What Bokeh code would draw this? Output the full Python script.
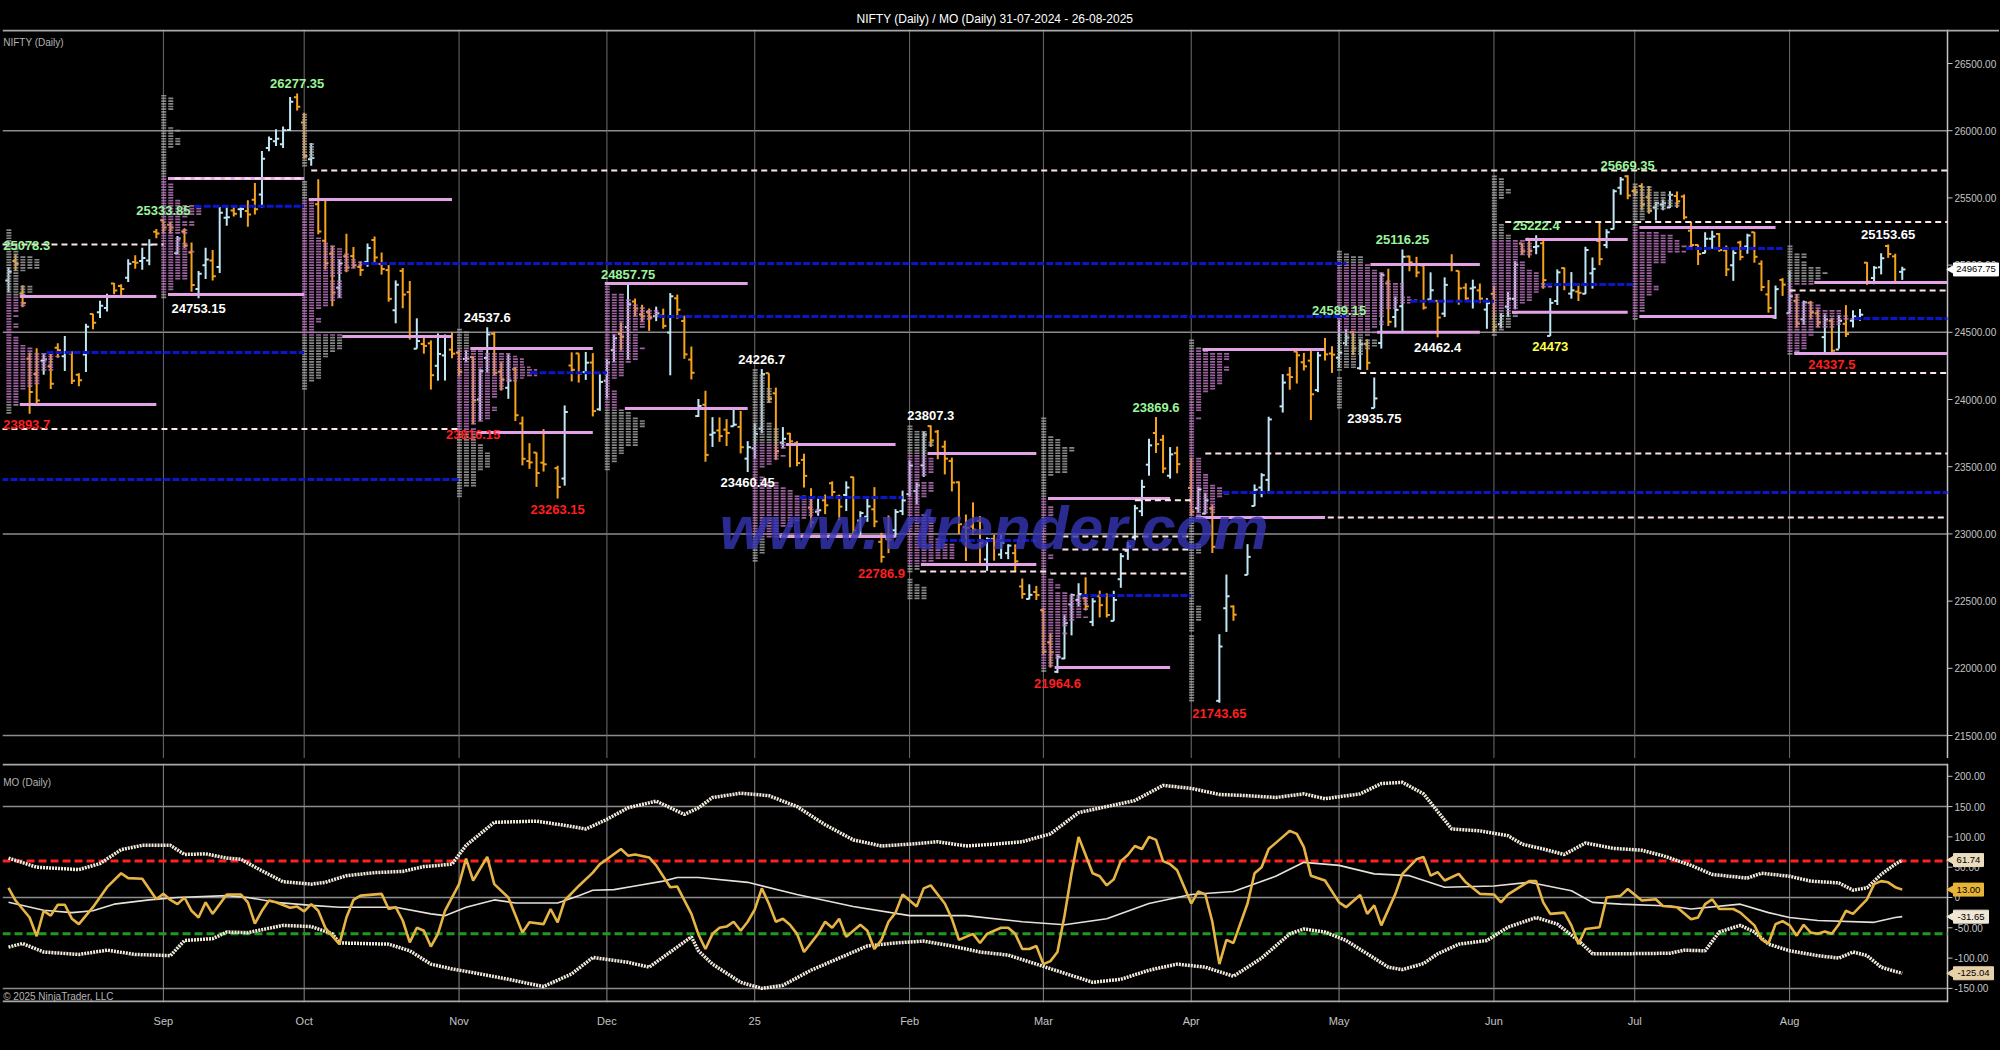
import numpy as np
from bokeh.plotting import figure
from bokeh.models import Range1d, FixedTicker, Label, Span, ColumnDataSource
from bokeh.layouts import column
from bokeh.embed import file_html
from bokeh.resources import INLINE
from bokeh.core.properties import value

FONT = "Liberation Sans"

# ---------------- DATA: daily OHLC (open, high, low, close), grouped by profile month ----------------
aug24 = [
    (24886, 24984, 24798, 24951), (25030, 25078.3, 24956, 25011), (24789, 24851, 24686, 24718),
    (24303, 24350, 23893.7, 24055), (24189, 24382, 23960, 23992), (24289, 24337, 24184, 24297),
    (24248, 24340, 24079, 24117), (24386, 24419, 24311, 24367), (24321, 24473, 24213, 24347),
    (24342, 24359, 24116, 24139), (24184, 24196, 24099, 24143), (24335, 24563, 24204, 24541),
    (24636, 24638, 24522, 24572), (24649, 24734, 24607, 24698), (24680, 24787, 24654, 24770),
    (24863, 24867, 24784, 24811), (24845, 24858, 24771, 24823), (24906, 25043, 24874, 25010),
    (25024, 25073, 24973, 25017), (25030, 25129, 24965, 25052), (25035, 25192, 24999, 25151),
    (25249, 25268, 25199, 25236)]
sep24 = [
    (25333, 25333.85, 25235, 25279), (25300, 25321, 25235, 25279), (25089, 25216, 25083, 25198),
    (25250, 25275, 25127, 25145), (25093, 25168, 24801, 24852), (24823, 24957, 24753.15, 24936),
    (24999, 25130, 24897, 25041), (25035, 25113, 24886, 24918), (24985, 25433, 24941, 25389),
    (25352, 25430, 25292, 25357), (25406, 25445, 25361, 25383), (25416, 25441, 25352, 25418),
    (25402, 25483, 25285, 25377), (25487, 25611, 25376, 25416), (25525, 25849, 25426, 25791),
    (25872, 25956, 25847, 25939), (25921, 26011, 25886, 25940), (25899, 26032, 25871, 26004),
    (26005, 26250, 25998, 26216), (26248, 26277.35, 26151, 26179)]
oct24 = [
    (26061, 26134, 25794, 25811), (25788, 25908, 25739, 25797), (25453, 25639, 25230, 25250),
    (25181, 25485, 24967, 25015), (25084, 25144, 24694, 24796), (24832, 25044, 24757, 25013),
    (25066, 25234, 24947, 24982), (25067, 25134, 24980, 24998), (24986, 25028, 24920, 24964),
    (25024, 25160, 24988, 25128), (25186, 25213, 25008, 25057), (25008, 25093, 24929, 24971),
    (24963, 25000, 24728, 24749), (24664, 24886, 24567, 24854), (24957, 24978, 24679, 24781),
    (24799, 24882, 24446, 24472), (24378, 24604, 24378, 24435), (24413, 24480, 24341, 24399),
    (24418, 24440, 24074, 24181), (24251, 24492, 24140, 24339), (24328, 24484, 24141, 24466),
    (24371, 24499, 24307, 24341)]
nov24 = [
    (24349, 24372, 24172, 24205), (24302, 24368, 24280, 24304), (24316, 24316, 23816.15, 23995),
    (24000, 24230, 23842, 24213), (24309, 24537.6, 24204, 24484), (24489, 24503, 24179, 24199),
    (24207, 24276, 24066, 24148), (24087, 24336, 24005, 24141), (24225, 24242, 23840, 23883),
    (23822, 23873, 23510, 23559), (23542, 23675, 23484, 23532), (23605, 23606, 23350, 23453),
    (23530, 23780, 23464, 23518), None, (23489, 23507, 23263.15, 23349),
    (23412, 23956, 23359, 23907), (24253, 24351, 24135, 24221), (24343, 24343, 24126, 24194),
    (24204, 24354, 24146, 24274), (24275, 24345, 23874, 23914), (23927, 24188, 23916, 24131)]
dec24 = [
    (24140, 24301, 24008, 24276), (24367, 24482, 24280, 24457), (24488, 24573, 24366, 24467),
    (24539, 24857.75, 24296, 24708), (24729, 24751, 24620, 24677), (24633, 24705, 24580, 24619),
    (24652, 24677, 24511, 24610), (24620, 24691, 24583, 24641), (24624, 24676, 24527, 24548),
    (24498, 24792, 24180, 24768), (24753, 24781, 24601, 24668), (24584, 24624, 24303, 24336),
    (24297, 24394, 24149, 24199), (23877, 24004, 23870, 23952), (23961, 24065, 23537, 23588),
    (23738, 23869, 23647, 23753), (23770, 23867, 23685, 23728), (23776, 23854, 23654, 23751),
    (23801, 23938, 23800, 23813), (23796, 23915, 23599, 23645), (23560, 23690, 23460.45, 23645)]
jan25 = [
    (23637, 23822, 23562, 23743), (23783, 24226.7, 23751, 24189), (24196, 24196, 23977, 24005),
    (24046, 24089, 23551, 23616), (23679, 23795, 23637, 23708), (23746, 23752, 23496, 23689),
    (23674, 23690, 23504, 23527), (23551, 23597, 23345, 23432), (23196, 23340, 23047, 23086),
    (23165, 23264, 23135, 23176), (23250, 23293, 23147, 23213), (23377, 23391, 23273, 23312),
    (23278, 23292, 23101, 23203), (23290, 23391, 23170, 23345), (23422, 23426, 22977, 23025),
    (23099, 23169, 22981, 23155), (23128, 23270, 23090, 23205), (23183, 23348, 23050, 23092),
    (22941, 23008, 22786.9, 22829), (22961, 23137, 22857, 22957), (23027, 23184, 22976, 23163),
    (23170, 23322, 23140, 23249)]
feb25 = [
    (23296, 23546, 23278, 23508), (23319, 23382, 23222, 23361), (23510, 23762, 23424, 23739),
    (23802, 23807.3, 23647, 23696), (23761, 23773, 23556, 23603), (23649, 23694, 23443, 23560),
    (23543, 23568, 23316, 23382), (23384, 23391, 23000, 23072), (23050, 23144, 22798, 23045),
    (23055, 23235, 22992, 23031), (23097, 23133, 22774, 22930), (22810, 22974, 22725, 22960),
    (22963, 22993, 22801, 22945), (22847, 22994, 22814, 22933), (22857, 22923, 22812, 22913),
    (22857, 22922, 22720, 22796), (22609, 22668, 22518, 22553), (22516, 22625, 22513, 22547),
    (22568, 22613, 22508, 22545)]
mar25 = [
    (22433, 22450, 22105, 22125), (22194, 22261, 22005, 22119), (21974, 22106, 21964.6, 22083),
    (22073, 22395, 22068, 22337), (22476, 22556, 22245, 22545), (22508, 22633, 22464, 22553),
    (22521, 22677, 22430, 22461), (22345, 22522, 22314, 22498), (22536, 22578, 22379, 22470),
    (22541, 22558, 22378, 22397), (22353, 22577, 22353, 22509), (22663, 22857, 22599, 22834),
    (22874, 22940, 22807, 22908), (22973, 23216, 22953, 23191), (23169, 23403, 23132, 23350),
    (23515, 23708, 23433, 23659), (23751, 23869.6, 23602, 23668), (23700, 23737, 23452, 23487),
    (23433, 23646, 23412, 23592), (23601, 23650, 23451, 23519), None]
apr25 = [
    (23342, 23566, 23136, 23165), (23192, 23350, 23158, 23332), (23151, 23306, 23146, 23250),
    (23190, 23214, 22858, 22904), (21758, 22254, 21743.65, 22162), (22447, 22698, 22271, 22536),
    (22460, 22468, 22354, 22399), None, (22695, 22924, 22695, 22829),
    (23208, 23368, 23207, 23329), (23345, 23452, 23273, 23437), (23402, 23872, 23299, 23852),
    None, (23949, 24189, 23903, 24126), (24185, 24242, 24073, 24167),
    (24357, 24359, 24119, 24329), (24277, 24347, 24216, 24247), (24289, 24365, 23848, 24039),
    (24070, 24355, 24055, 24328), (24371, 24458, 24290, 24336), (24342, 24396, 24198, 24334)]
may25 = [
    (24311, 24589.15, 24238, 24347), (24419, 24526, 24400, 24461), (24500, 24509, 24331, 24380),
    (24233, 24449, 24221, 24414), (24414, 24448, 24220, 24273), (23936, 24164, 23935.75, 24008),
    (24420, 24944, 24379, 24925), (24864, 24973, 24547, 24578), (24614, 24767, 24536, 24667),
    (24694, 25116.25, 24494, 25062), (25064, 25071, 24954, 25020), (25005, 25062, 24910, 24945),
    (24997, 25011, 24669, 24684), (24745, 24946, 24737, 24813), (24734, 24737, 24462.4, 24610),
    (24639, 24909, 24614, 24853), (25002, 25080, 24954, 25001), (24957, 24958, 24705, 24827),
    (24832, 24865, 24737, 24752), (24826, 24892, 24677, 24834), (24812, 24863, 24717, 24751),
    (24669, 24754, 24526, 24717)]
jun25 = [
    (24786, 24846, 24502, 24543), (24560, 24644, 24530, 24621), (24691, 24800, 24613, 24751),
    (24749, 25029, 24671, 25003), (25160, 25160, 25077, 25103), (25196, 25199, 25055, 25105),
    (25134, 25222.4, 25080, 25141), (25162, 25196, 24824, 24888), (24473, 24754, 24473, 24719),
    (24733, 24968, 24703, 24946), (24978, 24982, 24813, 24853), (24788, 24948, 24750, 24812),
    (24803, 24863, 24733, 24794), (24787, 25137, 24784, 25112), (24939, 25057, 24825, 24972),
    (25179, 25318, 24999, 25045), (25150, 25266, 25125, 25245), (25269, 25565, 25266, 25549),
    (25576, 25655, 25523, 25637), (25661, 25669.35, 25490, 25517)]
jul25 = [
    (25552, 25593, 25513, 25542), (25589, 25609, 25409, 25453), (25505, 25588, 25383, 25405),
    (25428, 25470, 25332, 25461), (25451, 25489, 25408, 25461), (25428, 25549, 25424, 25523),
    (25514, 25548, 25425, 25476), (25511, 25525, 25340, 25356), (25255, 25323, 25129, 25150),
    (25149, 25152, 25001, 25082), (25090, 25245, 25088, 25196), (25196, 25255, 25121, 25212),
    (25231, 25238, 25100, 25112), (25108, 25145, 24918, 24968), (24999, 25111, 24883, 25091),
    (25168, 25182, 25036, 25061), (25139, 25233, 25085, 25220), (25244, 25247, 25018, 25062),
    (25010, 25035, 24807, 24837), (24782, 24889, 24646, 24681), (24609, 24848, 24599, 24821),
    (24890, 24903, 24771, 24855)]
aug25 = [
    (24642, 24956, 24636, 24768), (24734, 24784, 24535, 24565), (24597, 24736, 24554, 24723),
    (24720, 24734, 24596, 24650), (24641, 24671, 24539, 24574), (24464, 24634, 24344, 24596),
    (24586, 24609, 24337.5, 24363), (24372, 24629, 24378, 24585), (24563, 24702, 24465, 24487),
    (24586, 24664, 24536, 24619), (24607, 24674, 24586, 24631), (25018, 25022, 24853, 24877),
    (24904, 24993, 24858, 24980), (24984, 25089, 24931, 25051), (25142, 25153.65, 25054, 25083),
    (25065, 25085, 24860, 24870), (24950, 24988, 24890, 24967.75)]

groups = [aug24, sep24, oct24, nov24, dec24, jan25, feb25, mar25, apr25, may25, jun25, jul25, aug25]

# month separators (bar index of first bar) and x tick labels
month_tick_idx = [22, 42, 64, 85, 106, 128, 147, 168, 189, 211, 231, 253]
month_tick_lbl = ["Sep", "Oct", "Nov", "Dec", "25", "Feb", "Mar", "Apr", "May", "Jun", "Jul", "Aug"]

# monthly profile levels: value-area high / low, point of control, and where their lines end (bar index)
va_high = [24766, 25644, 25488, 24379, 24863, 23665, 23598, 23263, 24372, 25004, 25190, 25280, 24871]
va_low = [23963, 24781, 24469, 23754, 23933, 22980, 22772, 22006, 23122, 24500, 24650, 24618, 24342]
va_end = [21, 42, 63, 83, 105, 126, 146, 165, 187, 209, 230, 251, 300]
poc = [24350, 25437, 25012, 24200, 24617, 23271, 22951, 22542, 23308, 24731, 24856, 25124, 24603]
poc_end = [42, 42, 190, 85, 190, 127, 146, 168, 300, 211, 231, 252, 300]
old_poc = [23405]
old_poc_start = [-1]
old_poc_end = [64]

# extended reference levels (white dashed)
ext_price = [25153, 23780, 25704, 25644, 22720, 23250, 22980, 22884, 22705, 23598, 23122, 24198, 25320, 24811]
ext_start = [-1, -1, 43, 23.6, 129.5, 160, 149.7, 149.7, 148, 170, 187.4, 192, 212.6, 253]
ext_end = [22, 64, 300, 42, 148, 168, 168, 168, 168, 300, 300, 300, 300, 300]

# swing labels: bar index, price, kind (hi = above bar / lo = below bar), colour class
swing_idx = [1, 22, 41, 27, 68, 66, 78, 88, 107, 105, 124, 131, 149, 163, 172, 189, 194, 198, 203, 217, 219, 230, 259, 267, 3]
swing_px = [25078.3, 25333.85, 26277.35, 24753.15, 24537.6, 23816.15, 23263.15, 24857.75, 24226.7, 23460.45,
            22786.9, 23807.3, 21964.6, 23869.6, 21743.65, 24589.15, 23935.75, 25116.25, 24462.4, 25222.4,
            24473, 25669.35, 24337.5, 25153.65, 23893.7]
swing_kind = ["hi", "hi", "hi", "lo", "hi", "lo", "lo", "hi", "hi", "lo", "lo", "hi", "lo", "hi", "lo", "hi",
              "lo", "hi", "lo", "hi", "lo", "hi", "lo", "hi", "lo"]
swing_cls = ["g", "g", "g", "w", "w", "r", "r", "g", "w", "w", "r", "w", "r", "g", "r", "g", "w", "g", "w", "g",
             "y", "g", "r", "w", "r"]

# MO oscillator (bar index, value)
mo_pts = [(0, 16), (1, -5), (3, -33), (4, -64), (5, -22), (6, -30), (7, -12), (8, -12), (9, -35), (10, -44),
          (12, -16), (14, 17), (16, 40), (17, 32), (19, 31), (20, 14), (21, -3), (22, 6), (23, -4), (24, -11),
          (25, 0), (26, -22), (27, -33), (28, -8), (29, -27), (31, 5), (33, 5), (34, -8), (35, -43), (36, -22),
          (37, -5), (38, -8), (40, -17), (41, -15), (42, -23), (43, -11), (44, -22), (45, -50), (47, -77),
          (48, -33), (49, -4), (50, 3), (53, 6), (54, -19), (55, -16), (56, -38), (57, -74), (58, -50),
          (59, -55), (60, -81), (61, -60), (62, -22), (64, 22), (65, 64), (66, 28), (68, 67), (69, 22),
          (71, 0), (73, -58), (74, -41), (76, -44), (77, -19), (78, -41), (79, -5), (81, 19), (83, 41),
          (84, 55), (85, 63), (87, 80), (88, 69), (89, 71), (91, 66), (92, 53), (94, 17), (95, 18), (97, -27),
          (98, -61), (99, -85), (100, -60), (101, -50), (102, -48), (103, -40), (104, -55), (105, -40),
          (106, -20), (107, 15), (108, -10), (109, -40), (110, -35), (111, -45), (112, -60), (113, -90),
          (114, -75), (115, -60), (116, -40), (117, -50), (118, -35), (119, -65), (120, -55), (121, -45),
          (122, -55), (123, -85), (124, -70), (125, -40), (126, -25), (127, 5), (128, -5), (129, -15),
          (130, 15), (131, 20), (132, 5), (133, -10), (134, -35), (135, -70), (136, -65), (137, -60),
          (138, -75), (139, -60), (140, -55), (141, -50), (142, -50), (143, -60), (144, -85), (145, -85),
          (146, -80), (147, -110), (148, -105), (149, -90), (150, -30), (151, 40), (152, 100), (153, 70),
          (154, 40), (155, 35), (156, 20), (157, 30), (158, 60), (159, 70), (160, 85), (161, 80), (162, 100),
          (163, 95), (164, 60), (165, 55), (166, 45), (168, -10), (169, 10), (170, 5), (171, -40),
          (172, -110), (173, -70), (174, -75), (176, -10), (177, 40), (178, 50), (179, 80), (181, 100),
          (182, 110), (183, 105), (184, 83), (185, 36), (187, 28), (189, -8), (190, -16), (192, 4), (193, -27),
          (194, -13), (195, -46), (197, 6), (198, 39), (200, 63), (201, 67), (202, 36), (203, 42), (204, 28),
          (206, 39), (207, 25), (209, 6), (211, 5), (212, -8), (213, 5), (216, 27), (217, 27), (218, -8),
          (219, -27), (221, -25), (222, -46), (223, -77), (224, -52), (226, -49), (227, 0), (229, 3),
          (230, 14), (232, -5), (234, -3), (235, -14), (237, -16), (239, -36), (240, -33), (241, -11),
          (242, -3), (243, -19), (245, -19), (246, -25), (248, -46), (249, -69), (250, -76), (251, -44),
          (252, -39), (253, -46), (254, -63), (255, -45), (256, -58), (257, -60), (258, -56), (259, -60),
          (260, -44), (261, -22), (262, -27), (264, -3), (265, 22), (266, 27), (267, 25), (268, 17), (269, 13.0)]
signal_pts = [(0, -8), (5, -21), (9, -25), (12, -22), (15, -11), (20, -4), (24, 0), (31, 3), (34, 0), (38, -8),
              (43, -13), (47, -16), (55, -16), (60, -27), (62, -30), (65, -16), (69, -4), (72, -9), (78, -9),
              (81, 3), (83, 12), (86, 13), (89, 19), (93, 27), (95, 33), (98, 33), (105, 25), (112, 5),
              (120, -15), (128, -30), (136, -30), (144, -40), (150, -45), (156, -35), (162, -10), (168, 5),
              (174, 10), (180, 35), (184, 58), (189, 53), (194, 39), (199, 36), (204, 17), (211, 19), (216, 25),
              (222, 11), (225, -8), (229, -11), (236, -14), (239, -19), (246, -11), (250, -25), (253, -33),
              (257, -38), (265, -41), (268, -33), (269, -31.65)]
upper_pts = [(0, 65), (4, 50), (10, 46), (13, 56), (16, 79), (19, 86), (23, 86), (25, 71), (28, 72), (31, 65),
             (33, 63), (36, 44), (39, 26), (43, 22), (45, 25), (48, 36), (52, 41), (56, 43), (59, 51), (63, 55),
             (65, 86), (67, 105), (69, 124), (75, 126), (79, 119), (82, 113), (85, 129), (88, 148), (92, 159),
             (94, 148), (96, 137), (98, 148), (100, 165), (104, 172), (108, 168), (112, 150), (116, 120),
             (120, 95), (124, 85), (128, 88), (132, 92), (136, 85), (140, 88), (144, 92), (148, 105),
             (152, 140), (156, 150), (160, 160), (164, 185), (168, 180), (172, 170), (176, 168), (180, 165),
             (184, 171), (187, 163), (192, 171), (195, 188), (198, 190), (201, 171), (205, 113), (209, 110),
             (213, 102), (215, 88), (218, 80), (221, 71), (224, 90), (228, 81), (232, 78), (235, 69), (239, 53),
             (242, 38), (247, 32), (249, 40), (253, 35), (256, 27), (260, 24), (262, 12), (264, 16), (266, 38),
             (268, 55), (269, 61.74)]
lower_pts = [(0, -82), (2, -76), (5, -90), (10, -94), (14, -87), (18, -94), (23, -96), (25, -71), (29, -68),
             (31, -57), (34, -58), (39, -46), (43, -48), (46, -60), (47, -75), (54, -77), (57, -88), (60, -110),
             (63, -118), (66, -124), (71, -135), (76, -147), (80, -126), (83, -99), (88, -107), (91, -115),
             (94, -90), (97, -65), (98, -88), (100, -110), (104, -140), (107, -150), (110, -145), (114, -120),
             (118, -100), (122, -80), (126, -75), (130, -72), (134, -80), (138, -90), (142, -95), (146, -110),
             (150, -125), (154, -140), (158, -135), (162, -120), (166, -110), (170, -115), (174, -130),
             (178, -100), (182, -60), (184, -52), (187, -57), (190, -71), (193, -93), (196, -115), (198, -119),
             (201, -109), (203, -93), (206, -77), (210, -71), (213, -49), (217, -33), (220, -44), (223, -71),
             (225, -93), (228, -93), (236, -92), (238, -87), (241, -88), (243, -57), (246, -46), (248, -57),
             (250, -77), (253, -88), (257, -96), (260, -100), (262, -90), (264, -96), (266, -115), (268, -122),
             (269, -125.04)]
ob_level = 60
os_level = -60

price_ticks = [21500, 22000, 22500, 23000, 23500, 24000, 24500, 25000, 25500, 26000, 26500]
price_grid = [21500, 23000, 24500, 26000]
mo_ticks = [-150, -100, -50, 0, 50, 100, 150, 200]
mo_grid = [-150, 0, 150]

# ---------------- layout constants ----------------
BIN = 20
TPO_W = 0.95
PXB = 7.04            # pixels per bar
BG = "#000000"
UP = "#bfe7f5"
DN = "#f5a21c"
PINK = "#e3a2e6"
PROF_VA = "#c27ac6"
PROF_OUT = "#a8a8a8"
BLUE = "#0a16c8"
WDASH = "#ffe6e6"
AXC = "#c4c4c4"
BORDER = "#a8a8a8"

W_FRAME = 1997                  # frame includes the price-scale strip on the right
X0 = -6 / PXB
AX_X = X0 + 1945 / PXB          # where the price scale line sits
X_END = X0 + W_FRAME / PXB
x_range = Range1d(X0, X_END)
Y1 = (21329, 26753)
Y2 = (-173.3, 221.1)

bars = [b for g in groups for b in g]
starts = list(np.cumsum([0] + [len(g) for g in groups])[:-1])


def count_at(g, lev):
    return sum(1 for b in g if b is not None and b[2] <= lev <= b[1])


def clipx(v):
    return min(v, AX_X)


def fmt(v):
    return ("%.2f" % v).rstrip("0").rstrip(".")


def new_fig(h, yr, top, **kw):
    f = figure(frame_width=W_FRAME, frame_height=h, x_range=x_range, y_range=Range1d(*yr),
               y_axis_location=None, output_backend="svg", toolbar_location=None,
               min_border_left=2, min_border_right=0, min_border_top=top, min_border_bottom=0,
               background_fill_color=BG, border_fill_color=BG, outline_line_color=None, **kw)
    f.xgrid.visible = False
    f.ygrid.visible = False
    return f


def price_scale(f, ticks, labels, yr, grid):
    n = len(ticks)
    f.segment([X0] * len(grid), grid, [AX_X] * len(grid), grid, line_color="#8c8c8c", line_width=1.5,
              level="underlay")
    f.segment([AX_X], [yr[0]], [AX_X], [yr[1]], line_color=AXC, line_width=1.5)
    f.segment([AX_X] * n, ticks, [AX_X + 5 / PXB] * n, ticks, line_color=AXC, line_width=1)
    f.text([AX_X + 7 / PXB] * n, ticks, text=labels, text_color=AXC, text_font=value(FONT),
           text_font_size="10px", text_baseline="middle", text_align="left")


def value_box(f, v, bg, fg="black"):
    t = "%.2f" % v
    w = 5 + 5.0 * len(t)
    xc = AX_X + (6 + w / 2) / PXB
    f.scatter([AX_X + 4.5 / PXB], [v], marker="triangle", angle=np.pi / 2, size=9,
              fill_color=bg, line_color=bg)
    f.rect([xc], [v], width=w, height=13, width_units="screen", height_units="screen",
           fill_color=bg, line_color=bg)
    f.text([xc], [v], text=[t], text_color=fg, text_font=value(FONT),
           text_font_size="9.5px", text_baseline="middle", text_align="center")


# ================= main price panel =================
p1 = new_fig(729, Y1, 29, x_axis_location=None)
p1.title.text = "NIFTY (Daily) / MO (Daily)  31-07-2024 - 26-08-2025"
p1.title.align = "left"
p1.title.offset = 854
p1.title.text_color = "white"
p1.title.text_font_size = "12px"
p1.title.text_font = FONT
p1.title.text_font_style = "normal"
p1.title.standoff = 8

p1.add_layout(Span(location=Y1[1] - 7.5, dimension="width", line_color=BORDER, line_width=2))
for t in month_tick_idx:
    p1.add_layout(Span(location=t, dimension="height", line_color="#6e6e6e", line_width=1, level="underlay"))
price_scale(p1, price_ticks, ["%.2f" % t for t in price_ticks], Y1, price_grid)

# ---- OHLC bars ----
xs, hi, lo, op, cl, col = [], [], [], [], [], []
for i, b in enumerate(bars):
    if b is None:
        continue
    xs.append(i); op.append(b[0]); hi.append(b[1]); lo.append(b[2]); cl.append(b[3])
    col.append(UP if b[3] >= b[0] else DN)
xs = np.array(xs, dtype=float)
src = ColumnDataSource(dict(x=xs, xl=xs - 0.45, xr=xs + 0.45, h=hi, l=lo, o=op, c=cl, col=col))
p1.segment("x", "l", "x", "h", source=src, line_color="col", line_width=2)
p1.segment("xl", "o", "x", "o", source=src, line_color="col", line_width=2)
p1.segment("x", "c", "xr", "c", source=src, line_color="col", line_width=2)

# ---- monthly profiles (computed from the bars) ----
rx0, rx1, ry, rc = [], [], [], []
for gi, g in enumerate(groups):
    s = starts[gi] - 0.3
    lows = [b[2] for b in g if b is not None]
    highs = [b[1] for b in g if b is not None]
    lo_b = int(np.floor(min(lows) / BIN)) * BIN
    hi_b = int(np.ceil(max(highs) / BIN)) * BIN
    for lev in range(lo_b, hi_b + 1, BIN):
        c = count_at(g, lev)
        if c == 0:
            continue
        rx0.append(s); rx1.append(s + c * TPO_W); ry.append(lev)
        rc.append(PROF_VA if va_low[gi] <= lev <= va_high[gi] else PROF_OUT)
p1.segment(rx0, ry, rx1, ry, line_color=rc, line_width=1.7, line_dash="5 2", line_alpha=0.8)

# ---- profile lines ----
vx0, vx1, vy = [], [], []
px0, px1, py = [], [], []
for gi, g in enumerate(groups):
    s = starts[gi] - 0.3
    for lev in (va_high[gi], va_low[gi]):
        vx0.append(s + count_at(g, lev) * TPO_W); vx1.append(clipx(va_end[gi])); vy.append(lev)
    px0.append(s + count_at(g, poc[gi]) * TPO_W); px1.append(clipx(poc_end[gi])); py.append(poc[gi])
p1.segment(vx0, vy, vx1, vy, line_color=PINK, line_width=3)
p1.segment(px0 + old_poc_start, py + old_poc, px1 + [clipx(e) for e in old_poc_end], py + old_poc,
           line_color=BLUE, line_width=3, line_dash="7 2")
p1.segment(ext_start, ext_price, [clipx(e) for e in ext_end], ext_price, line_color=WDASH, line_width=2,
           line_dash="6 4")

# ---- swing labels ----
cmap = {"g": "#9af59a", "r": "#ff1f1f", "w": "#ffffff", "y": "#ffff4a"}
for kind, base, off in (("hi", "bottom", -5), ("lo", "top", 6)):
    sel = [k for k in range(len(swing_idx)) if swing_kind[k] == kind]
    lx_ = [swing_idx[k] if swing_idx[k] > 3 else X0 + 0.1 for k in sel]
    al_ = ["center" if swing_idx[k] > 3 else "left" for k in sel]
    s2 = ColumnDataSource(dict(x=lx_, y=[swing_px[k] for k in sel], al=al_,
                               t=[fmt(swing_px[k]) for k in sel], c=[cmap[swing_cls[k]] for k in sel]))
    p1.text("x", "y", text="t", source=s2, text_color="c", text_align="al", text_baseline=base,
            y_offset=off, text_font=value(FONT), text_font_size="13px", text_font_style="bold")

p1.add_layout(Label(x=X0 + 0.1, y=26655, text="NIFTY (Daily)", text_color="#b4b4b4", text_font_size="10px",
                    text_font=FONT, text_baseline="middle"))
value_box(p1, bars[-1][3], "#ffffff")
p1.add_layout(Label(x=140, y=23050, text="www.vtrender.com", text_align="center", text_baseline="middle",
                    text_font=FONT, text_font_size="62px", text_font_style="bold italic",
                    text_color="#3434b4", text_alpha=0.8))

# ================= MO panel =================
p2 = new_fig(239, Y2, 5)
xa = p2.xaxis
xa.ticker = FixedTicker(ticks=month_tick_idx)
xa.major_label_overrides = {t: l for t, l in zip(month_tick_idx, month_tick_lbl)}
xa.major_label_text_font_size = "11px"
xa.major_label_text_font = FONT
xa.major_label_text_color = AXC
xa.axis_line_color = None
xa.major_tick_line_color = None
xa.minor_tick_line_color = None
xa.major_label_standoff = 6
for t in month_tick_idx:
    p2.add_layout(Span(location=t, dimension="height", line_color="#8a8a8a", line_width=1, level="underlay"))
# panel border (top and bottom, up to the price scale)
p2.segment([X0, X0], [Y2[1] - 1.7, Y2[0] + 1.7], [AX_X, AX_X], [Y2[1] - 1.7, Y2[0] + 1.7],
           line_color=BORDER, line_width=2)
price_scale(p2, mo_ticks, ["0" if t == 0 else "%.2f" % t for t in mo_ticks], Y2, mo_grid)

p2.segment([X0, X0], [ob_level, os_level], [AX_X, AX_X], [ob_level, os_level],
           line_color=["#ff2020", "#1f9a1f"], line_width=3, line_dash="8 4")


def unz(pts):
    return [a for a, _ in pts], [b for _, b in pts]


ux, uy = unz(upper_pts)
lx, ly = unz(lower_pts)
sx, sy = unz(signal_pts)
mx, my = unz(mo_pts)
p2.line(ux, uy, line_color="#f2eadb", line_width=3.5, line_dash="2 1")
p2.line(lx, ly, line_color="#f2eadb", line_width=3.5, line_dash="2 1")
p2.line(sx, sy, line_color="#e6e0d8", line_width=1.6)
p2.line(mx, my, line_color="#e6b445", line_width=2.6)

p2.add_layout(Label(x=X0 + 0.1, y=190, text="MO (Daily)", text_color="#b4b4b4", text_font_size="10px",
                    text_font=FONT, text_baseline="middle"))
p2.add_layout(Label(x=X0 + 0.1, y=-163, text="\u00a9 2025 NinjaTrader, LLC", text_color="#b4b4b4",
                    text_font_size="10px", text_font=FONT, text_baseline="middle"))

for v, bg in ((uy[-1], "#eadcbc"), (my[-1], "#e8b437"), (sy[-1], "#efe6d6"), (ly[-1], "#e6d0a8")):
    value_box(p2, v, bg)

layout = column(p1, p2, spacing=0, styles={"background-color": "black"})
html = file_html(layout, INLINE, title="NIFTY / MO")
html = html.replace("<body>", '<body style="background-color:black;">')
open("out.html", "w").write(html)
